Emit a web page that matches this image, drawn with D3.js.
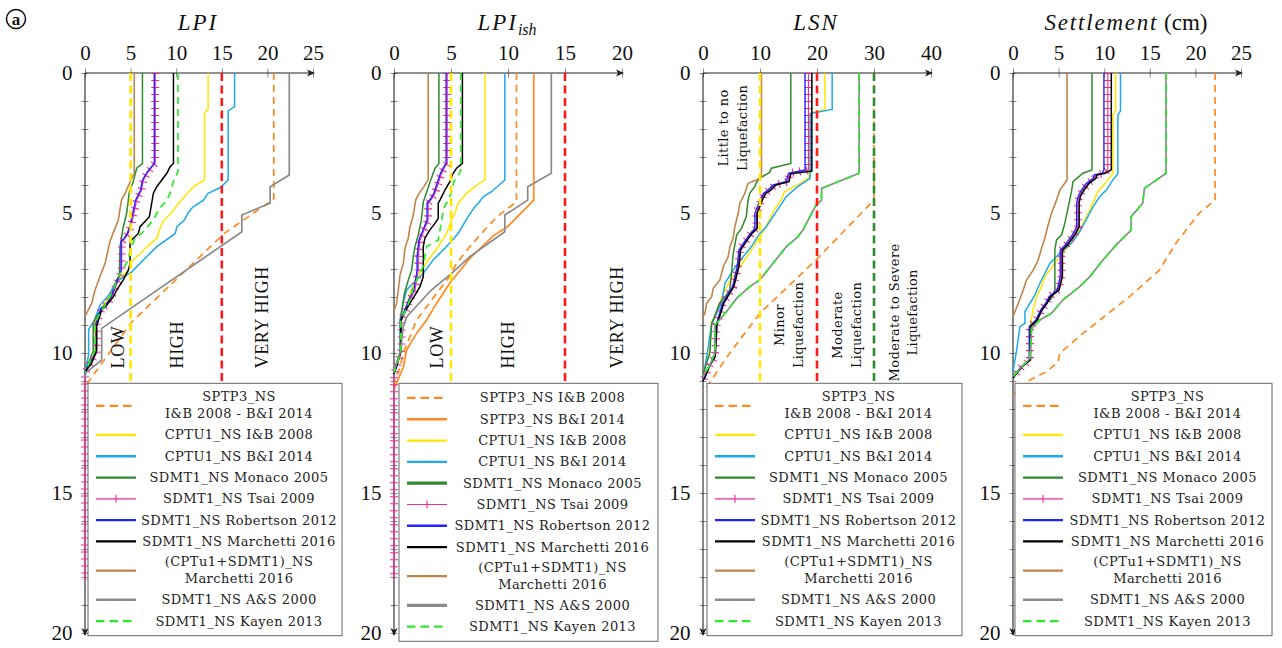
<!DOCTYPE html>
<html>
<head>
<meta charset="utf-8">
<script src="https://cdn.jsdelivr.net/npm/d3@7"></script>
<style>
  body { margin: 0; background: #fff; }
  svg { display: block; }
</style>
</head>
<body>
<svg id="chart" width="1282" height="648"></svg>
<script>
// depth (m) vs index profiles, each point = [depth, value]
const depthLabels = [0, 5, 10, 15, 20];

// ---- LPI ----
const lpi_sptp3 = [[0,20.7],[4.5,20.7],[5.75,15.2],[8.9,5.1],[11.2,0]];
const lpi_cptu_ib = [[0,13.5],[1.3,13.5],[1.43,13.1],[3.82,13.1],[4.06,11.9],[4.3,11.2],[4.68,10.2],[4.98,9.5],[5.28,8.6],[5.57,8.2],[5.9,7.9],[6.2,6.8],[6.5,5.9],[6.74,5.1],[7.04,4.75],[7.27,4.0],[7.51,3.5],[7.75,3.1],[8.4,1.8],[8.9,1.1],[9.95,1.1],[10.35,0.55],[10.7,0]];
const lpi_cptu_bi = [[0,16.4],[1.2,16.4],[1.35,15.7],[3.82,15.7],[4.1,14.8],[4.3,13.5],[4.54,12.98],[4.8,11.8],[5.0,11.3],[5.25,10.9],[5.49,10.07],[5.73,9.9],[6.2,7.87],[6.68,6.4],[7.1,5.13],[7.33,4.03],[7.51,3.29],[7.87,2.74],[8.29,1.65],[8.85,1.0],[9.15,0.4],[10.05,0.4],[10.5,0.15],[10.75,0]];
const lpi_monaco = [[0,6.3],[3.23,6.3],[3.4,5.67],[3.88,5.3],[4.24,4.86],[5.01,4.57],[5.49,4.2],[6.2,3.84],[7.27,3.77],[7.39,3.48],[7.75,3.1],[8.1,2.74],[8.4,1.83],[8.8,1.1],[8.94,0.9],[9.95,0.9],[10.35,0.4],[10.7,0]];
const lpi_tsai = [[0,7.7],[3.22,7.7],[3.52,6.95],[3.82,6.4],[4.18,6.2],[4.54,5.67],[5.37,5.13],[5.73,4.75],[5.9,4.39],[6.02,4.03],[7.04,4.03],[7.39,3.65],[7.87,3.1],[8.1,2.74],[8.29,2.38],[8.4,1.83],[8.94,1.28],[10.0,1.28],[10.37,0.55],[10.72,0],[18.1,0]];
const lpi_robertson = [[0,7.6],[3.22,7.6],[3.52,6.85],[3.82,6.3],[4.18,6.1],[4.54,5.55],[5.37,5.0],[5.73,4.65],[5.9,4.3],[6.02,3.95],[7.04,3.95],[7.39,3.55],[7.87,3.0],[8.1,2.65],[8.29,2.3],[8.4,1.75],[8.94,1.2],[10.0,1.2],[10.37,0.5],[10.72,0]];
const lpi_marchetti = [[0,9.7],[3.23,9.7],[3.35,9.33],[3.58,8.97],[3.82,8.42],[4.06,7.87],[4.29,7.5],[5.13,7.06],[5.49,6.04],[5.73,5.85],[6.02,4.94],[6.8,4.94],[7.04,4.75],[7.39,4.2],[7.75,3.48],[7.99,3.1],[8.29,2.38],[8.46,1.83],[9.04,1.28],[9.89,1.28],[10.36,0.74],[10.6,0.18],[10.7,0]];
const lpi_combo = [[0,5.4],[3.57,5.4],[3.93,4.9],[4.29,4.4],[4.54,4.0],[5.25,3.65],[5.71,3.1],[6.02,2.74],[6.8,2.2],[7.27,1.65],[7.75,1.1],[8.22,0.74],[8.58,0.18],[8.7,0]];
const lpi_as2000 = [[0,22.4],[3.64,22.4],[4.06,20.3],[4.65,20.3],[5.07,17.2],[5.67,17.2],[9.12,1.83],[10.25,1.83],[10.7,0.1],[10.9,0]];
const lpi_kayen = [[0,10.2],[3.52,10.2],[3.88,9.7],[4.3,9.33],[4.54,8.97],[4.89,8.05],[5.25,7.5],[5.73,6.22],[5.9,5.49],[6.32,4.94],[6.68,4.75],[7.27,3.65],[7.75,3.1],[8.2,2.38],[8.57,1.65],[8.93,1.1],[9.9,1.1],[10.3,0.55],[10.7,0]];

// ---- LPIish ----
const lpiish_sptp3_ib = [[0,10.74],[4.6,10.74],[5.13,9.05],[5.64,7.88],[6.2,6.65],[6.8,5.48],[7.33,4.76],[7.87,3.74],[8.35,2.86],[8.82,1.98],[9.42,1.4],[10.0,0.82],[10.5,0.53],[11.1,0]];
const lpiish_sptp3_bi = [[0,12.26],[4.54,12.26],[5.5,9.93],[5.8,8.76],[6.62,6.65],[7.5,4.9],[8.22,3.74],[8.82,2.86],[9.3,1.98],[9.89,1.11],[10.5,0.82],[11.3,0]];
const lpiish_cptu_ib = [[0,7.97],[3.82,7.97],[4.06,7.09],[4.3,6.37],[4.65,5.63],[5.0,5.34],[5.25,5.05],[5.73,4.61],[6.2,3.88],[6.68,3.0],[7.15,2.28],[7.4,1.84],[7.9,1.4],[8.3,1.1],[8.85,0.6],[9.95,0.6],[10.4,0.25],[10.7,0]];
const lpiish_cptu_bi = [[0,9.72],[3.82,9.72],[4.24,8.55],[4.42,7.82],[4.6,7.5],[4.78,7.09],[5.13,6.5],[5.73,5.63],[6.2,4.61],[6.68,3.44],[7.15,2.57],[7.51,1.69],[7.75,1.11],[8.22,0.81],[8.82,0.53],[9.95,0.53],[10.4,0.2],[10.7,0]];
const lpiish_monaco = [[0,3.94],[3.23,3.94],[3.4,3.6],[3.9,3.15],[4.26,2.86],[4.6,2.57],[5.25,2.4],[5.78,2.13],[6.2,1.84],[6.56,1.69],[7.04,1.55],[7.4,1.25],[7.9,0.9],[8.3,0.75],[8.85,0.55],[9.95,0.55],[10.4,0.2],[10.7,0]];
const lpiish_tsai = [[0,4.67],[3.23,4.67],[3.35,4.47],[3.58,4.18],[3.94,3.88],[4.3,3.59],[4.5,3.3],[4.65,3.0],[5.25,3.0],[5.55,2.7],[5.97,2.28],[6.56,2.13],[7.04,2.13],[7.75,1.84],[8.1,1.4],[8.4,1.11],[8.82,0.67],[9.9,0.67],[10.5,0.24],[10.75,0],[18.1,0]];
const lpiish_robertson = [[0,4.57],[3.23,4.57],[3.35,4.37],[3.58,4.08],[3.94,3.78],[4.3,3.49],[4.5,3.2],[4.65,2.9],[5.25,2.9],[5.55,2.6],[5.97,2.18],[6.56,2.03],[7.04,2.03],[7.75,1.74],[8.1,1.3],[8.4,1.01],[8.82,0.6],[9.9,0.6],[10.5,0.2],[10.75,0]];
const lpiish_marchetti = [[0,6.0],[3.23,6.0],[3.4,5.49],[3.58,5.19],[3.88,4.9],[4.18,4.47],[4.54,4.03],[4.65,3.88],[5.19,3.88],[5.37,3.59],[5.6,3.15],[5.9,2.71],[6.2,2.57],[7.27,2.57],[7.63,2.28],[7.93,1.84],[8.22,1.4],[8.5,1.0],[8.85,0.6],[9.95,0.6],[10.5,0.2],[10.75,0]];
const lpiish_combo = [[0,3.0],[3.8,3.0],[4.06,2.63],[4.3,2.2],[4.54,1.9],[5.1,1.68],[5.5,1.4],[5.9,1.25],[6.26,0.96],[6.8,0.82],[7.21,0.53],[7.75,0.38],[8.22,0.23],[8.5,0]];
const lpiish_as2000 = [[0,13.8],[3.58,13.8],[4.06,11.73],[4.54,11.73],[5.07,9.72],[5.67,9.72],[6.56,6.65],[7.21,4.9],[7.75,3.27],[8.7,1.12],[9.05,0.82],[10.0,0.53],[10.4,0.2],[10.7,0]];
const lpiish_kayen = [[0,5.87],[3.47,5.87],[3.7,5.6],[3.88,5.25],[4.3,5.0],[4.54,4.76],[4.8,4.4],[5.25,4.18],[5.97,3.88],[6.2,2.86],[6.9,2.57],[7.4,1.99],[7.65,1.69],[8.1,1.4],[8.4,1.1],[8.85,0.6],[9.95,0.6],[10.4,0.25],[10.7,0]];

// ---- LSN ----
const lsn_sptp3 = [[0,30],[4.54,30],[6.62,20.1],[8.58,10],[10.0,4.7],[10.96,1.5],[11.4,0]];
const lsn_cptu_ib = [[0,21.4],[1.3,21.4],[1.45,18.6],[3.75,18.6],[3.95,17.0],[4.24,14.3],[4.54,13.7],[4.85,12.6],[5.25,11.6],[5.7,10.5],[6.15,9.0],[6.6,7.6],[7.05,6.0],[7.5,4.5],[8.0,3.3],[8.45,2.6],[8.9,1.5],[9.9,1.2],[10.4,0.5],[10.75,0]];
const lsn_cptu_bi = [[0,22.66],[1.3,22.66],[1.45,18.8],[3.76,18.8],[4.06,16.6],[4.42,14.6],[4.78,13.4],[5.49,11.1],[5.73,9.96],[6.2,8.5],[6.56,7.04],[7.04,5.3],[7.51,3.84],[8.22,3.27],[8.94,1.52],[9.78,0.93],[10.49,0.35],[10.75,0]];
const lsn_monaco = [[0,15.4],[3.23,15.4],[3.4,12.0],[3.55,11.7],[3.75,10.0],[3.9,9.4],[4.06,9.08],[4.3,8.2],[4.54,7.9],[5.13,7.6],[5.55,6.76],[5.79,5.9],[6.44,5.3],[7.15,5.0],[7.75,4.7],[7.93,4.1],[8.22,2.9],[8.6,2.2],[9.0,1.5],[10.0,1.2],[10.45,0.5],[10.75,0]];
const lsn_tsai = [[0,18.5],[3.46,18.5],[3.58,15.2],[3.88,14.9],[4.0,12.6],[4.18,11.7],[4.3,10.8],[4.54,10.25],[5.01,9.38],[5.55,9.38],[5.73,8.5],[6.14,7.04],[6.32,6.46],[6.92,6.17],[7.63,5.3],[7.93,4.42],[8.22,3.55],[9.0,2.39],[10.13,2.1],[10.43,1.22],[10.85,0.35],[11.0,0]];
const lsn_robertson = [[0,17.9],[3.46,17.9],[3.58,15.0],[3.88,14.6],[4.0,12.3],[4.18,11.4],[4.3,10.6],[4.54,10.0],[5.01,9.1],[5.55,9.1],[5.73,8.3],[6.14,6.9],[6.32,6.3],[6.92,6.0],[7.63,5.2],[7.93,4.3],[8.22,3.45],[9.0,2.3],[10.13,2.0],[10.43,1.15],[10.85,0.3],[11.0,0]];
const lsn_marchetti = [[0,19.1],[3.5,19.1],[3.6,15.4],[3.88,15.1],[4.0,12.8],[4.18,11.9],[4.3,11.0],[4.54,10.4],[5.01,9.5],[5.55,9.5],[5.73,8.6],[6.14,7.2],[6.32,6.6],[6.92,6.3],[7.63,5.4],[7.93,4.5],[8.22,3.65],[9.0,2.45],[10.13,2.15],[10.43,1.25],[10.85,0.4],[11.0,0]];
const lsn_combo = [[0,10.26],[3.7,10.26],[3.82,9.4],[3.94,7.9],[4.3,7.34],[4.65,6.46],[5.01,6.17],[5.49,5.59],[5.9,5.29],[6.2,4.72],[6.56,4.42],[6.92,3.55],[7.39,2.97],[7.69,1.8],[7.99,1.52],[8.22,0.65],[8.58,0.35],[8.7,0]];
const lsn_as2000 = [[0,27.4],[3.58,27.4],[4.12,20.8],[4.54,20.8],[4.71,19.86],[5.61,17.52],[5.85,16.65],[6.2,14.62],[7.39,9.96],[7.63,8.2],[8.05,5.89],[8.52,4.14],[9.0,2.1],[10.0,2.1],[10.43,1.2],[10.72,0.35],[10.85,0]];
const lsn_kayen = [[0,27.4],[3.58,27.4],[4.12,20.8],[4.54,20.8],[4.71,19.86],[5.61,17.52],[5.85,16.65],[6.2,14.62],[7.39,9.96],[7.63,8.2],[8.05,5.89],[8.52,4.14],[9.0,2.1],[10.0,2.1],[10.43,1.2],[10.72,0.35],[10.85,0]];

// ---- Settlement (cm) ----
const set_sptp3 = [[0,22.16],[4.54,22.16],[5.01,20.4],[6.08,17.87],[7.04,16.05],[7.99,12.77],[8.64,10.23],[9.3,7.67],[10.01,5.13],[10.31,4.95],[10.67,3.68],[10.96,1.86],[11.5,0]];
const set_cptu_ib = [[0,11.24],[1.35,11.24],[1.5,10.95],[3.6,10.95],[3.82,10.4],[4.24,9.3],[4.54,8.9],[4.9,8.4],[5.49,7.5],[5.85,6.9],[6.2,6.1],[6.44,5.4],[6.8,4.6],[7.27,3.49],[7.63,3.13],[7.99,2.59],[8.46,2.2],[8.82,2.0],[9.06,1.86],[10.25,1.86],[10.49,0.95],[10.85,0]];
const set_cptu_bi = [[0,11.79],[1.35,11.79],[1.5,11.5],[3.6,11.5],[3.82,10.95],[4.18,10.23],[4.42,9.5],[4.78,8.77],[5.01,8.4],[5.67,7.31],[6.08,6.41],[6.44,5.13],[6.8,4.04],[7.51,2.95],[7.93,2.4],[8.52,1.31],[8.94,1.31],[9.06,0.76],[9.89,0.4],[10.6,0.03],[10.7,0]];
const set_monaco = [[0,8.66],[3.46,8.66],[3.58,7.67],[3.88,6.58],[4.24,6.41],[4.54,6.22],[5.37,5.68],[5.79,5.32],[5.96,4.77],[6.32,4.59],[7.75,4.59],[8.05,4.22],[8.22,3.6],[8.46,3.1],[8.82,2.55],[9.06,1.8],[10.25,1.8],[10.49,0.9],[10.85,0]];
const set_tsai = [[0,10.4],[3.46,10.4],[3.58,10.0],[3.64,9.06],[3.76,8.95],[3.94,8.22],[4.18,7.67],[4.4,7.3],[4.65,7.13],[5.49,7.13],[5.73,6.77],[5.9,6.41],[6.14,5.86],[6.32,5.32],[7.27,5.32],[7.75,4.95],[7.99,4.04],[8.22,3.68],[8.46,3.13],[8.82,2.59],[9.06,1.86],[10.25,1.86],[10.49,0.95],[10.85,0]];
const set_robertson = [[0,9.97],[3.46,9.97],[3.58,9.8],[3.64,8.9],[3.76,8.8],[3.94,8.05],[4.18,7.5],[4.4,7.15],[4.65,6.98],[5.49,6.98],[5.73,6.62],[5.9,6.26],[6.14,5.72],[6.32,5.18],[7.27,5.18],[7.75,4.85],[7.99,3.95],[8.22,3.6],[8.46,3.05],[8.82,2.52],[9.06,1.8],[10.25,1.8],[10.49,0.9],[10.85,0]];
const set_marchetti = [[0,10.78],[3.46,10.78],[3.58,10.1],[3.64,9.2],[3.76,9.1],[3.94,8.35],[4.18,7.8],[4.4,7.4],[4.65,7.25],[5.49,7.25],[5.73,6.9],[5.9,6.52],[6.14,5.98],[6.32,5.42],[7.27,5.42],[7.75,5.05],[7.99,4.12],[8.22,3.75],[8.46,3.2],[8.82,2.65],[9.06,1.92],[10.25,1.92],[10.49,1.0],[10.9,0]];
const set_combo = [[0,5.93],[3.82,5.93],[4.18,5.13],[4.54,4.77],[5.01,4.22],[5.43,3.85],[5.9,3.49],[6.26,3.13],[6.68,2.76],[7.04,2.22],[7.39,1.49],[7.75,1.12],[8.22,0.58],[8.52,0.22],[8.7,0]];
const set_as2000 = [[0,16.78],[3.58,16.78],[4.12,14.41],[4.65,14.22],[5.13,12.96],[5.61,12.96],[6.14,11.32],[6.68,9.86],[7.28,8.41],[7.63,7.31],[8.1,5.49],[8.58,4.22],[8.82,2.95],[9.12,2.04],[10.2,1.86],[10.49,0.95],[10.85,0]];
const set_kayen = [[0,16.78],[3.58,16.78],[4.12,14.41],[4.65,14.22],[5.13,12.96],[5.61,12.96],[6.14,11.32],[6.68,9.86],[7.28,8.41],[7.63,7.31],[8.1,5.49],[8.58,4.22],[8.82,2.95],[9.12,2.04],[10.2,1.86],[10.49,0.95],[10.85,0]];

// threshold values for each panel
const lpiLimits = [5, 15];
const lsnLimits = [10, 20, 30];

const labels = {
  sptp3: ["SPTP3_NS", "I&B 2008 - B&I 2014"],
  sptp3_ib: ["SPTP3_NS I&B 2008"],
  sptp3_bi: ["SPTP3_NS B&I 2014"],
  cptu_ib: ["CPTU1_NS I&B 2008"],
  cptu_bi: ["CPTU1_NS B&I 2014"],
  monaco: ["SDMT1_NS Monaco 2005"],
  tsai: ["SDMT1_NS Tsai 2009"],
  robertson: ["SDMT1_NS Robertson 2012"],
  marchetti: ["SDMT1_NS Marchetti 2016"],
  combo: ["(CPTu1+SDMT1)_NS", "Marchetti 2016"],
  as2000: ["SDMT1_NS A&S 2000"],
  kayen: ["SDMT1_NS Kayen 2013"]
};

const styles = {
  sptp3: { color: "#ff8a1f", dash: "7,5", w: 1.7 },
  sptp3_ib: { color: "#ff8a1f", dash: "7,5", w: 1.7 },
  sptp3_bi: { color: "#ff8a1f", w: 1.7 },
  cptu_ib: { color: "#ffe600", w: 1.5 },
  cptu_bi: { color: "#1ea9ec", w: 1.5 },
  monaco: { color: "#2e8b2e", w: 1.5 },
  tsai: { color: "#ee2a98", w: 1.1, marks: true },
  robertson: { color: "#2323ff", w: 1.4 },
  marchetti: { color: "#000", w: 1.5 },
  combo: { color: "#c0854a", w: 1.6 },
  as2000: { color: "#8a8a8a", w: 1.7 },
  kayen: { color: "#2de82d", dash: "7,5", w: 1.7 }
};

const SERIF = "'Liberation Serif', 'DejaVu Serif', serif";
const LEGF = "'DejaVu Serif', serif";
const Y0 = 73, H = 560, W = 228;

const panels = [
  { x0: 85, xMax: 25, xTicks: [0, 5, 10, 15, 20, 25], title: "LPI",
    series: { sptp3: lpi_sptp3, cptu_ib: lpi_cptu_ib, cptu_bi: lpi_cptu_bi, monaco: lpi_monaco, tsai: lpi_tsai, robertson: lpi_robertson, marchetti: lpi_marchetti, combo: lpi_combo, as2000: lpi_as2000, kayen: lpi_kayen },
    limits: lpiLimits, limitColors: ["#ffe600", "#ff1a1a"], legendLeft: 88, legendW: 254 },
  { x0: 394, xMax: 20, xTicks: [0, 5, 10, 15, 20], title: "LPIish",
    series: { sptp3_ib: lpiish_sptp3_ib, sptp3_bi: lpiish_sptp3_bi, cptu_ib: lpiish_cptu_ib, cptu_bi: lpiish_cptu_bi, monaco: lpiish_monaco, tsai: lpiish_tsai, robertson: lpiish_robertson, marchetti: lpiish_marchetti, combo: lpiish_combo, as2000: lpiish_as2000, kayen: lpiish_kayen },
    limits: lpiLimits, limitColors: ["#ffe600", "#ff1a1a"], legendLeft: 399, legendW: 259, thick: ["monaco", "as2000"] },
  { x0: 703, xMax: 40, xTicks: [0, 10, 20, 30, 40], title: "LSN",
    series: { sptp3: lsn_sptp3, cptu_ib: lsn_cptu_ib, cptu_bi: lsn_cptu_bi, monaco: lsn_monaco, tsai: lsn_tsai, robertson: lsn_robertson, marchetti: lsn_marchetti, combo: lsn_combo, as2000: lsn_as2000, kayen: lsn_kayen },
    limits: lsnLimits, limitColors: ["#ffe600", "#ff1a1a", "#2e8b2e"], legendLeft: 707, legendW: 255 },
  { x0: 1013, xMax: 25, xTicks: [0, 5, 10, 15, 20, 25], title: "Settlement",
    series: { sptp3: set_sptp3, cptu_ib: set_cptu_ib, cptu_bi: set_cptu_bi, monaco: set_monaco, tsai: set_tsai, robertson: set_robertson, marchetti: set_marchetti, combo: set_combo, as2000: set_as2000, kayen: set_kayen },
    limits: [], limitColors: [], legendLeft: 1015, legendW: 257 }
];

const svg = d3.select("#chart");

// circled "a"
svg.append("circle").attr("cx", 16).attr("cy", 19).attr("r", 9.5)
  .attr("fill", "none").attr("stroke", "#111").attr("stroke-width", 1.5);
svg.append("text").attr("x", 16).attr("y", 19).attr("text-anchor", "middle")
  .attr("dominant-baseline", "central").attr("font-family", SERIF)
  .attr("font-weight", "bold").attr("font-size", 17).attr("fill", "#111").text("a");

function vtext(x, y, str, size, anchor, family, spacing) {
  svg.append("text")
    .attr("transform", "translate(" + x + "," + y + ") rotate(-90)")
    .attr("dy", "0.35em")
    .attr("text-anchor", anchor)
    .attr("font-family", family)
    .attr("font-size", size)
    .attr("letter-spacing", spacing)
    .attr("fill", "#111")
    .text(str);
}

panels.forEach(function (p, pi) {
  const x = d3.scaleLinear().domain([0, p.xMax]).range([p.x0, p.x0 + W]);
  const y = d3.scaleLinear().domain([0, 20]).range([Y0, Y0 + H]);

  // title
  const t = svg.append("text").attr("x", p.x0 + 113).attr("y", 30)
    .attr("text-anchor", "middle").attr("font-family", SERIF)
    .attr("font-size", 23).attr("fill", "#111");
  if (p.title === "LPIish") {
    t.append("tspan").attr("font-style", "italic").attr("letter-spacing", 2).text("LPI");
    t.append("tspan").attr("font-style", "italic").attr("font-size", 16).attr("dy", 5).text("ish");
  } else if (p.title === "Settlement") {
    t.append("tspan").attr("font-style", "italic").attr("letter-spacing", 1.8).text("Settlement");
    t.append("tspan").text(" (cm)");
  } else {
    t.append("tspan").attr("font-style", "italic").attr("letter-spacing", 2).text(p.title);
  }

  // x axis (top)
  const gx = svg.append("g").attr("transform", "translate(0," + Y0 + ")")
    .call(d3.axisTop(x).tickValues(p.xTicks).tickSize(5).tickPadding(8));
  gx.select(".domain").remove();
  gx.selectAll(".tick line").attr("y1", 4.5).attr("y2", -4.5).attr("stroke", "#888");
  gx.selectAll(".tick text").attr("fill", "#111")
    .attr("font-family", SERIF).attr("font-size", 21);

  // y axis (left)
  const gy = svg.append("g").attr("transform", "translate(" + p.x0 + ",0)")
    .call(d3.axisLeft(y).tickValues(y.ticks(20))
      .tickFormat(d => depthLabels.includes(d) ? d : "")
      .tickSize(3.5).tickPadding(9));
  gy.select(".domain").remove();
  gy.selectAll(".tick line").attr("x1", -3.5).attr("x2", 3.5).attr("stroke", "#888");
  gy.selectAll(".tick text").attr("fill", "#111")
    .attr("font-family", SERIF).attr("font-size", 21);

  // axis lines with arrows
  const xEnd = x(p.xMax) + 1, yEnd = y(20) + 2;
  svg.append("line").attr("x1", p.x0).attr("x2", xEnd).attr("y1", Y0).attr("y2", Y0)
    .attr("stroke", "#222").attr("stroke-width", 1.1);
  svg.append("path").attr("d", "M" + (xEnd + 1) + "," + Y0 + " l-8,-3.6 l2,3.6 l-2,3.6 z").attr("fill", "#222");
  svg.append("line").attr("x1", p.x0).attr("x2", p.x0).attr("y1", Y0).attr("y2", yEnd)
    .attr("stroke", "#222").attr("stroke-width", 1.1);
  svg.append("path").attr("d", "M" + p.x0 + "," + (yEnd + 1) + " l-3.6,-8 l3.6,2 l3.6,-2 z").attr("fill", "#222");

  // profiles
  const line = d3.line().x(d => x(d[1])).y(d => y(d[0]));
  Object.keys(p.series).forEach(function (k) {
    const s = styles[k];
    const path = svg.append("path").datum(p.series[k])
      .attr("d", line).attr("fill", "none")
      .attr("stroke", s.color).attr("stroke-width", s.w)
      .attr("stroke-linejoin", "miter");
    if (s.dash) path.attr("stroke-dasharray", s.dash);
    if (s.marks) {
      svg.append("path").datum(p.series[k])
        .attr("d", line).attr("fill", "none")
        .attr("stroke", s.color).attr("stroke-width", 8)
        .attr("stroke-dasharray", "1.1,5.9");
    }
  });

  // class limits
  p.limits.forEach(function (v, i) {
    svg.append("line").attr("x1", x(v)).attr("x2", x(v))
      .attr("y1", y(0)).attr("y2", y(11.2))
      .attr("stroke", p.limitColors[i]).attr("stroke-width", 2.6)
      .attr("stroke-dasharray", "8,4.5");
  });

  // zone labels
  if (pi < 2) {
    const base = y(10.55);
    vtext(x(pi === 0 ? 3.6 : 3.74), base, "LOW", 18, "start", SERIF, 0.6);
    vtext(x(10), base, "HIGH", 18, "start", SERIF, 0.6);
    vtext(x(pi === 0 ? 19.4 : 19.5), base, "VERY HIGH", 18, "start", SERIF, 0.6);
  } else if (pi === 2) {
    vtext(x(3.55), y(1.96), "Little to no", 13, "middle", LEGF, 0.4);
    vtext(x(6.93), y(1.96), "Liquefaction", 13, "middle", LEGF, 0.3);
    vtext(x(13.45), y(9.0), "Minor", 13, "middle", LEGF, 0.4);
    vtext(x(16.77), y(9.0), "Liquefaction", 13, "middle", LEGF, 0.3);
    vtext(x(23.6), y(9.0), "Moderate", 13, "middle", LEGF, 0.4);
    vtext(x(26.85), y(9.0), "Liquefaction", 13, "middle", LEGF, 0.3);
    vtext(x(33.5), y(8.55), "Moderate to Severe", 13, "middle", LEGF, 0.4);
    vtext(x(36.7), y(8.55), "Liquefaction", 13, "middle", LEGF, 0.3);
  }

  // legend
  const keys = Object.keys(p.series);
  const rowH = 21.3, twoH = 37, pad = 4;
  const top = 383.3;
  let total = pad * 2;
  keys.forEach(k => total += labels[k].length > 1 ? twoH : rowH);
  const left = p.legendLeft, right = left + p.legendW;
  svg.append("rect").attr("x", left).attr("y", top).attr("width", p.legendW).attr("height", total)
    .attr("fill", "#fff").attr("stroke", "#666").attr("stroke-width", 1);
  let cy = top + pad;
  keys.forEach(function (k) {
    const s = styles[k];
    const lab = labels[k];
    const h = lab.length > 1 ? twoH : rowH;
    const c = cy + h / 2;
    const lx1 = left + 8, lx2 = left + 48;
    const thick = p.thick && p.thick.includes(k);
    const sample = svg.append("line").attr("x1", lx1).attr("x2", lx2).attr("y1", c).attr("y2", c)
      .attr("stroke", s.color).attr("stroke-width", s.marks ? 1.1 : (thick ? 3.4 : 2.3));
    if (s.dash) sample.attr("stroke-dasharray", "8.5,5");
    if (s.marks) {
      svg.append("line").attr("x1", (lx1 + lx2) / 2).attr("x2", (lx1 + lx2) / 2)
        .attr("y1", c - 4).attr("y2", c + 4).attr("stroke", s.color).attr("stroke-width", 1.1);
    }
    const tx = (lx2 + right) / 2;
    lab.forEach(function (str, li) {
      const ty = lab.length > 1 ? (li === 0 ? c - 9 : c + 7.8) : c;
      svg.append("text").attr("x", tx).attr("y", ty)
        .attr("text-anchor", "middle").attr("dominant-baseline", "central")
        .attr("font-family", LEGF).attr("font-size", 13)
        .attr("letter-spacing", 0.45).attr("fill", "#222")
        .text(str);
    });
    cy += h;
  });
});
</script>
</body>
</html>
